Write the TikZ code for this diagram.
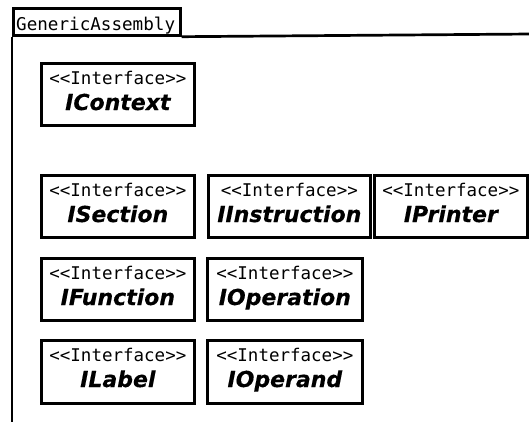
\documentclass[tikz,border=0pt]{standalone}
\usepackage{fontspec}
\setmainfont{DejaVu Sans}
\setmonofont{DejaVu Sans Mono}
\newfontfamily\namefont{DejaVu Sans}[BoldItalicFeatures={FakeBold=0.3}]
\tikzset{
  x=1pt, y=-1pt,
  frameline/.style={line width=2.7pt, draw=black},
  ifacebox/.style={draw=black, line width=2.7pt, fill=white, inner sep=0pt},
  stereo/.style={font=\ttfamily\fontsize{17.5}{20}\selectfont, inner sep=0pt, anchor=base},
  iname/.style={font=\namefont\bfseries\itshape\fontsize{22}{26}\selectfont, inner sep=0pt, anchor=base},
  tabtext/.style={font=\ttfamily\fontsize{17.6}{20}\selectfont, inner sep=0pt, anchor=base west},
}
% \uiface{id}{left}{top}{right}{bottom}{name}
\newcommand{\uiface}[6]{%
  \node[ifacebox, minimum width=#4-#2, minimum height=#5-#3, anchor=north west] (#1) at (#2,#3) {};
  \node[stereo] (#1-st) at ([yshift=-22.5pt]#1.north) {<<Interface>>};
  \node[iname] (#1-nm) at ([yshift=-48pt]#1.north) {#6};
}
\begin{document}
\begin{tikzpicture}
\useasboundingbox (0,0) rectangle (529,421);
% package frame with its name tab
\node[frameline, draw, inner sep=0pt, minimum width=167pt, minimum height=27pt, anchor=north west] (tab) at (12,7) {};
\node[tabtext] (tabname) at ([xshift=4pt, yshift=6pt]tab.south west) {GenericAssembly};
\coordinate (frameright) at (531,34);
\coordinate (framebottom) at (12,423);
\draw[frameline] (tab.south east) -- (frameright);
\draw[frameline] (tab.south west) -- (framebottom);
% interfaces
\uiface{icontext}{40}{62}{193}{124}{IContext}
\uiface{isection}{40}{174}{193}{236}{ISection}
\uiface{iinstruction}{207}{174}{369}{236}{IInstruction}
\uiface{iprinter}{373}{174}{526}{236}{IPrinter}
\uiface{ifunction}{40}{257}{193}{319}{IFunction}
\uiface{ioperation}{206}{257}{361}{319}{IOperation}
\uiface{ilabel}{40}{339}{193}{402}{ILabel}
\uiface{ioperand}{206}{339}{361}{402}{IOperand}
\end{tikzpicture}
\end{document}
